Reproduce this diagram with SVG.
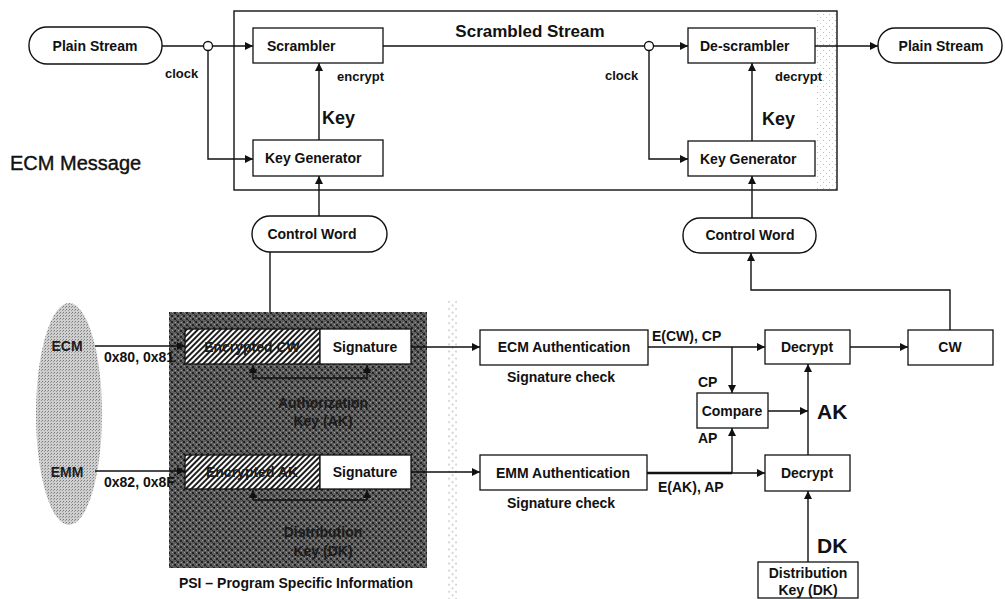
<svg xmlns="http://www.w3.org/2000/svg" width="1005" height="599" viewBox="0 0 1005 599">
<defs>
<style>
.t{font-family:"Liberation Sans",Arial,sans-serif;font-weight:bold;font-size:14px;fill:#111}
.s13{font-size:13px}
.m{text-anchor:middle}
.box{fill:#fff;stroke:#111;stroke-width:1.3}
.pill{fill:#fff;stroke:#111;stroke-width:1.4}
.ln{fill:none;stroke:#111;stroke-width:1.4}
.dk{fill:#1c1c1c}
</style>
<marker id="arr" viewBox="0 0 10 10" refX="10" refY="5" markerWidth="9" markerHeight="8" markerUnits="userSpaceOnUse" orient="auto">
<path d="M0,0 L10,5 L0,10 z" fill="#111"/>
</marker>
<pattern id="hatch" width="4" height="4" patternUnits="userSpaceOnUse" patternTransform="rotate(45)">
<rect width="4" height="4" fill="#fff"/>
<line x1="1" y1="0" x2="1" y2="4" stroke="#111" stroke-width="1.9"/>
</pattern>
<pattern id="noise" width="6" height="6" patternUnits="userSpaceOnUse">
<rect width="6" height="6" fill="#5e5e5e"/>
<rect x="0" y="0" width="2" height="2" fill="#222"/>
<rect x="3" y="3" width="2" height="2" fill="#222"/>
<rect x="4" y="0" width="1" height="1" fill="#999"/>
<rect x="1" y="4" width="1" height="1" fill="#999"/>
<rect x="2" y="2" width="1" height="1" fill="#2e2e2e"/>
</pattern>
<pattern id="stip" width="3" height="3" patternUnits="userSpaceOnUse">
<rect width="3" height="3" fill="#cfcfcf"/>
<rect x="0" y="0" width="1" height="1" fill="#7a7a7a"/>
<rect x="2" y="1" width="1" height="1" fill="#999"/>
</pattern>
<pattern id="faint" width="6" height="6" patternUnits="userSpaceOnUse">
<rect x="1" y="2" width="1" height="1" fill="#bbb"/>
<rect x="4" y="5" width="1" height="1" fill="#ccc"/>
</pattern>
<pattern id="strip" width="5" height="5" patternUnits="userSpaceOnUse" patternTransform="rotate(45)">
<line x1="1" y1="0" x2="1" y2="2" stroke="#999" stroke-width="0.8"/>
</pattern>
</defs>

<rect width="1005" height="599" fill="#fff"/>

<!-- ECM Message frame -->
<g id="ecm-frame">
<rect x="815" y="12" width="22" height="178" fill="url(#faint)"/>
<rect x="234" y="11" width="603" height="179" fill="none" stroke="#111" stroke-width="1.4"/>
<text class="t" x="530" y="37" text-anchor="middle" style="font-size:17px">Scrambled Stream</text>
</g>
<text class="t" x="10" y="170" style="font-weight:normal;font-size:20px;stroke:#111;stroke-width:0.4">ECM Message</text>

<!-- PSI -->
<g id="psi">
<rect x="169" y="312" width="258" height="256" fill="url(#noise)"/>
<text class="t m" x="296" y="588">PSI – Program Specific Information</text>
</g>
<rect x="448" y="300" width="9" height="299" fill="url(#strip)"/>

<!-- ECM / EMM ellipse -->
<g id="ecm-emm">
<ellipse cx="69" cy="414" rx="33" ry="111" fill="url(#stip)"/>
<text class="t dk" x="67" y="351" text-anchor="middle">ECM</text>
<text class="t dk" x="67" y="477" text-anchor="middle">EMM</text>
</g>

<!-- connectors -->
<g id="connectors">
<path class="ln" d="M162,46 H203.5"/>
<path class="ln" d="M212.5,46 H253" marker-end="url(#arr)"/>
<path class="ln" d="M208,50.5 V159 H253" marker-end="url(#arr)"/>
<path class="ln" d="M319,140 V63" marker-end="url(#arr)"/>
<path class="ln" d="M319,216 V176" marker-end="url(#arr)"/>
<path class="ln" d="M270,252 V312"/>
<path class="ln" d="M383,46 H644.5"/>
<path class="ln" d="M653.5,46 H688" marker-end="url(#arr)"/>
<path class="ln" d="M649,50.5 V159 H688" marker-end="url(#arr)"/>
<path class="ln" d="M752,141 V63" marker-end="url(#arr)"/>
<path class="ln" d="M815,46 H878" marker-end="url(#arr)"/>
<path class="ln" d="M752,218 V176" marker-end="url(#arr)"/>
<path class="ln" d="M950,330 V290 H751 V253" marker-end="url(#arr)"/>
<path class="ln" d="M95,346 H185" marker-end="url(#arr)"/>
<path class="ln" d="M411,347 H480" marker-end="url(#arr)"/>
<path class="ln" d="M648,347 H765" marker-end="url(#arr)"/>
<path class="ln" d="M732,347 V393" marker-end="url(#arr)"/>
<path class="ln" d="M850,347 H908" marker-end="url(#arr)"/>
<path class="ln" d="M95,471 H185" marker-end="url(#arr)"/>
<path class="ln" d="M411,472 H480" marker-end="url(#arr)"/>
<path class="ln" d="M647,473 H732" style="stroke-width:2.4"/>
<path class="ln" d="M732,473 H765" marker-end="url(#arr)"/>
<path class="ln" d="M732,473 V428" marker-end="url(#arr)"/>
<path class="ln" d="M768,411 H808" marker-end="url(#arr)"/>
<path class="ln" d="M808,455 V364" marker-end="url(#arr)"/>
<path class="ln" d="M808,562 V491" marker-end="url(#arr)"/>
<path class="ln" d="M253,378 V365" marker-end="url(#arr)"/>
<path class="ln" d="M367,378 V365" marker-end="url(#arr)"/>
<path class="ln" d="M253,378 H367"/>
<path class="ln" d="M253,500 V490" marker-end="url(#arr)"/>
<path class="ln" d="M367,500 V490" marker-end="url(#arr)"/>
<path class="ln" d="M253,500 H367"/>
<circle cx="208" cy="46" r="4.5" fill="#fff" stroke="#111" stroke-width="1.3"/>
<circle cx="649" cy="46" r="4.5" fill="#fff" stroke="#111" stroke-width="1.3"/>
</g>

<!-- connector labels -->
<g id="labels">
<text class="t s13" x="165" y="78">clock</text>
<text class="t s13" x="337" y="81">encrypt</text>
<text class="t" x="322" y="124" style="font-size:18px">Key</text>
<text class="t s13" x="605" y="80">clock</text>
<text class="t s13" x="775" y="81">decrypt</text>
<text class="t" x="762" y="125" style="font-size:18px">Key</text>
<text class="t" x="104" y="362">0x80, 0x81</text>
<text class="t" x="104" y="487">0x82, 0x8F</text>
<text class="t" x="652" y="341">E(CW), CP</text>
<text class="t" x="658" y="492">E(AK), AP</text>
<text class="t" x="698" y="387">CP</text>
<text class="t" x="698" y="443">AP</text>
<text class="t" x="817" y="419" style="font-size:21px">AK</text>
<text class="t" x="817" y="553" style="font-size:21px">DK</text>
<text class="t m dk" x="323" y="408">Authorization</text>
<text class="t m dk" x="323" y="426">Key (AK)</text>
<text class="t m dk" x="323" y="537">Distribution</text>
<text class="t m dk" x="323" y="556">Key (DK)</text>
</g>

<g id="plain-stream-in">
<rect class="pill" x="29" y="27" width="133" height="37" rx="18"/>
<text class="t m" x="95" y="51">Plain Stream</text>
</g>
<g id="scrambler">
<rect class="box" x="253" y="28" width="130" height="35"/>
<text class="t" x="267" y="51">Scrambler</text>
</g>
<g id="keygen-left">
<rect class="box" x="253" y="140" width="130" height="36"/>
<text class="t" x="265" y="163">Key Generator</text>
</g>
<g id="descrambler">
<rect class="box" x="688" y="28" width="127" height="35"/>
<text class="t" x="700" y="51">De-scrambler</text>
</g>
<g id="keygen-right">
<rect class="box" x="688" y="141" width="127" height="35"/>
<text class="t" x="700" y="164">Key Generator</text>
</g>
<g id="plain-stream-out">
<rect class="pill" x="878" y="28" width="124" height="35" rx="17"/>
<text class="t m" x="941" y="51">Plain Stream</text>
</g>
<g id="control-word-left">
<rect class="pill" x="252" y="216" width="135" height="36" rx="18"/>
<text class="t m" x="312" y="239">Control Word</text>
</g>
<g id="control-word-right">
<rect class="pill" x="683" y="218" width="133" height="35" rx="17"/>
<text class="t m" x="750" y="240">Control Word</text>
</g>
<g id="ecm-packet">
<rect x="185" y="329" width="135" height="35" fill="url(#hatch)" stroke="#111" stroke-width="1.3"/>
<text class="t m dk" x="252" y="352">Encrypted CW</text>
<rect class="box" x="320" y="329" width="91" height="35"/>
<text class="t m" x="365" y="352">Signature</text>
</g>
<g id="emm-packet">
<rect x="185" y="455" width="135" height="34" fill="url(#hatch)" stroke="#111" stroke-width="1.3"/>
<text class="t m dk" x="252" y="477">Encrypted AK</text>
<rect class="box" x="320" y="455" width="91" height="34"/>
<text class="t m" x="365" y="477">Signature</text>
</g>
<g id="ecm-auth">
<rect class="box" x="480" y="330" width="168" height="35"/>
<text class="t m" x="564" y="352">ECM Authentication</text>
<text class="t m" x="561" y="382">Signature check</text>
</g>
<g id="emm-auth">
<rect class="box" x="480" y="455" width="167" height="35"/>
<text class="t m" x="563" y="478">EMM Authentication</text>
<text class="t m" x="561" y="508">Signature check</text>
</g>
<g id="decrypt-top">
<rect class="box" x="765" y="330" width="85" height="34"/>
<text class="t m" x="807" y="352">Decrypt</text>
</g>
<g id="cw">
<rect class="box" x="908" y="330" width="85" height="35"/>
<text class="t m" x="950" y="352">CW</text>
</g>
<g id="compare">
<rect class="box" x="697" y="393" width="71" height="35"/>
<text class="t m" x="732" y="416">Compare</text>
</g>
<g id="decrypt-bottom">
<rect class="box" x="765" y="455" width="85" height="36"/>
<text class="t m" x="807" y="478">Decrypt</text>
</g>
<g id="distribution-key">
<rect class="box" x="758" y="562" width="100" height="36"/>
<text class="t m" x="808" y="578">Distribution</text>
<text class="t m" x="808" y="595">Key (DK)</text>
</g>
</svg>
